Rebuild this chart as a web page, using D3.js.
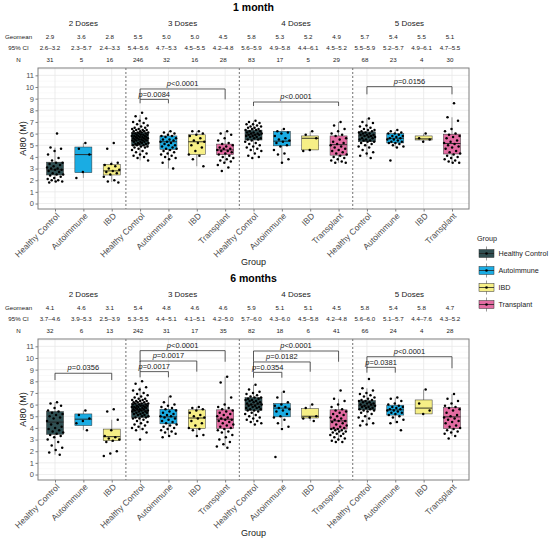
<!DOCTYPE html>
<html>
<head>
<meta charset="utf-8">
<script src="https://cdn.jsdelivr.net/npm/d3@7"></script>
<style>
body { margin: 0; background: #fff; }
svg { font-family: "Liberation Sans", Arial, sans-serif; }
</style>
</head>
<body>
<svg id="drawing_region"></svg>
<script>
// ---- data ----
const doses = ["2 Doses", "3 Doses", "4 Doses", "5 Doses"];
const groups = ["Healthy Control", "Autoimmune", "IBD", "Transplant"];
const group_colors = ["#2f4f52", "#1aace3", "#f6ef86", "#e36ca2"];
const y_ticks = [0, 1, 2, 3, 4, 5, 6, 7, 8, 9, 10, 11];
const table_rows = ["Geomean", "95% CI", "N"];

// 1 month
const m1_geomean = ["2.9","3.6","2.8","5.5","5.0","5.0","4.5","5.8","5.3","5.2","4.9","5.7","5.4","5.5","5.1"];
const m1_ci = ["2.6–3.2","2.3–5.7","2.4–3.3","5.4–5.6","4.7–5.3","4.5–5.5","4.2–4.8","5.6–5.9","4.9–5.8","4.4–6.1","4.5–5.2","5.5–5.9","5.2–5.7","4.9–6.1","4.7–5.5"];
const m1_n = ["31","5","16","246","32","16","28","83","17","5","29","68","23","4","30"];
// [lower whisker, q1, median, q3, upper whisker]
const m1_box = [
  [1.85, 2.45, 2.9, 3.55, 4.8], [2.2, 2.65, 4.2, 4.85, 5.2], [1.85, 2.45, 2.8, 3.35, 3.6],
  [3.7, 5.0, 5.6, 6.1, 7.6], [3.0, 4.65, 5.3, 5.8, 6.2], [3.2, 4.2, 5.3, 5.9, 6.2], [3.45, 4.2, 4.6, 5.1, 6.2],
  [4.4, 5.45, 5.9, 6.3, 7.1], [3.5, 4.95, 5.35, 6.2, 6.4], [4.5, 4.6, 5.6, 5.8, 6.2], [3.5, 4.15, 5.05, 5.8, 7.0],
  [4.0, 5.3, 5.8, 6.15, 7.3], [4.8, 5.2, 5.6, 6.0, 6.3], [5.3, 5.45, 5.55, 5.8, 6.0], [3.5, 4.25, 5.15, 5.95, 7.4]
];
const m1_points = [
  [6.0,4.8,4.7,4.5,4.2,3.9,3.7,3.5,3.5,3.4,3.3,3.2,3.1,3.0,3.0,2.9,2.9,2.8,2.7,2.6,2.5,2.5,2.4,2.3,2.2,2.1,2.0,2.0,1.9,1.9,1.8],
  [5.2,4.7,4.2,2.7,2.2],
  [5.2,4.7,3.5,3.4,3.3,3.2,3.0,2.9,2.8,2.7,2.6,2.5,2.3,2.0,1.9,1.8],
  [7.8,7.5,7.3,7.1,7.0,6.9,6.8,6.7,6.6,6.5,6.5,6.4,6.4,6.3,6.3,6.3,6.2,6.2,6.2,6.1,6.1,6.1,6.0,6.0,6.0,6.0,5.9,5.9,5.9,5.9,5.8,5.8,5.8,5.8,5.7,5.7,5.7,5.7,5.6,5.6,5.6,5.6,5.5,5.5,5.5,5.5,5.4,5.4,5.4,5.4,5.3,5.3,5.3,5.2,5.2,5.2,5.1,5.1,5.1,5.0,5.0,5.0,4.9,4.9,4.8,4.8,4.7,4.6,4.5,4.4,4.3,4.2,4.1,4.0,3.9,3.7],
  [6.2,6.1,6.0,5.9,5.8,5.8,5.7,5.6,5.5,5.5,5.4,5.3,5.3,5.2,5.1,5.0,5.0,4.9,4.8,4.7,4.7,4.6,4.5,4.4,4.3,4.2,4.1,4.0,3.9,3.8,3.5,3.0],
  [6.2,6.2,6.0,5.9,5.8,5.6,5.4,5.3,5.2,5.0,4.8,4.5,4.2,4.1,3.8,3.2],
  [6.2,6.0,5.9,5.6,5.4,5.2,5.1,5.0,4.9,4.8,4.7,4.7,4.6,4.5,4.5,4.4,4.3,4.2,4.1,4.0,3.9,3.8,3.7,3.6,3.5,3.3,3.1,2.8],
  [7.1,7.0,6.9,6.8,6.8,6.7,6.6,6.6,6.5,6.5,6.4,6.4,6.3,6.3,6.2,6.2,6.1,6.1,6.0,6.0,6.0,5.9,5.9,5.9,5.8,5.8,5.7,5.7,5.6,5.6,5.5,5.5,5.4,5.3,5.2,5.1,5.0,4.9,4.8,4.7,4.6,4.5,4.3,4.1,4.0,3.9],
  [6.4,6.2,6.1,6.0,5.8,5.6,5.5,5.4,5.3,5.2,5.0,4.9,4.6,4.3,4.2,3.8,3.5],
  [6.2,5.9,5.6,4.6,4.5],
  [7.0,6.7,6.4,6.2,6.0,5.9,5.8,5.6,5.5,5.3,5.2,5.1,5.0,4.9,4.8,4.7,4.6,4.5,4.4,4.3,4.2,4.1,4.0,3.9,3.8,3.7,3.6,3.5,3.5],
  [7.3,7.0,6.9,6.7,6.6,6.5,6.4,6.3,6.3,6.2,6.2,6.1,6.1,6.0,6.0,5.9,5.9,5.9,5.8,5.8,5.7,5.7,5.6,5.6,5.5,5.5,5.4,5.4,5.3,5.3,5.2,5.1,5.0,4.9,4.8,4.6,4.4,4.3,4.1,3.9],
  [6.3,6.2,6.1,6.0,6.0,5.9,5.8,5.8,5.7,5.6,5.6,5.5,5.5,5.4,5.3,5.3,5.2,5.2,5.1,5.0,4.9,4.8,3.7],
  [6.0,5.6,5.5,5.3],
  [8.6,7.4,7.1,6.4,6.2,6.0,5.9,5.8,5.7,5.6,5.4,5.3,5.2,5.1,5.0,4.9,4.8,4.7,4.5,4.4,4.3,4.2,4.1,4.0,3.9,3.8,3.7,3.6,3.5,3.5]
];
// brackets: from column, to column, bar level, tip level, label
const m1_pvals = [
  [3, 6, 9.83, 8.94, "<0.0001"],
  [3, 4, 8.94, 8.60, "=0.0084"],
  [7, 10, 8.71, 8.37, "<0.0001"],
  [11, 14, 10.03, 9.37, "=0.0156"]
];

// 6 months
const m6_geomean = ["4.1","4.6","3.1","5.4","4.8","4.6","4.6","5.9","5.1","5.1","4.5","5.8","5.4","5.8","4.7"];
const m6_ci = ["3.7–4.6","3.9–5.3","2.5–3.9","5.3–5.5","4.4–5.1","4.1–5.1","4.2–5.0","5.7–6.0","4.3–6.0","4.5–5.8","4.2–4.8","5.6–6.0","5.1–5.7","4.4–7.6","4.3–5.2"];
const m6_n = ["32","6","13","242","31","17","35","82","18","6","41","66","24","4","28"];
const m6_box = [
  [1.7, 3.45, 4.5, 5.4, 6.2], [3.8, 4.2, 4.75, 5.2, 5.5], [2.8, 2.9, 3.25, 3.9, 4.7],
  [3.8, 4.9, 5.5, 6.1, 7.5], [3.3, 4.35, 4.95, 5.6, 6.7], [3.4, 3.95, 4.85, 5.55, 5.8], [2.4, 3.95, 4.75, 5.55, 8.4],
  [4.5, 5.5, 6.0, 6.6, 7.7], [4.1, 4.95, 5.7, 6.1, 7.1], [4.6, 4.85, 5.0, 5.65, 6.0], [2.9, 3.9, 4.6, 5.55, 6.5],
  [4.3, 5.55, 5.9, 6.35, 7.4], [4.4, 5.1, 5.55, 5.95, 6.6], [5.2, 5.2, 5.7, 6.4, 7.3], [3.3, 3.95, 4.95, 5.75, 6.9]
];
const m6_points = [
  [6.2,6.1,5.9,5.7,5.5,5.4,5.3,5.2,5.1,5.0,4.9,4.8,4.6,4.4,4.3,4.1,4.0,3.9,3.8,3.7,3.6,3.5,3.4,3.3,3.2,3.0,2.8,2.5,2.3,2.1,1.9,1.7],
  [5.5,5.1,4.8,4.6,4.4,3.8],
  [5.6,5.4,4.7,3.8,3.3,3.2,3.1,3.0,2.9,2.8,2.0,1.8,1.6],
  [8.0,7.8,7.5,7.3,7.2,7.0,6.9,6.8,6.7,6.6,6.5,6.5,6.4,6.4,6.3,6.3,6.3,6.2,6.2,6.2,6.1,6.1,6.1,6.0,6.0,6.0,5.9,5.9,5.9,5.9,5.8,5.8,5.8,5.8,5.7,5.7,5.7,5.6,5.6,5.6,5.6,5.5,5.5,5.5,5.4,5.4,5.4,5.3,5.3,5.3,5.2,5.2,5.1,5.1,5.0,5.0,4.9,4.9,4.8,4.8,4.7,4.6,4.5,4.4,4.3,4.2,4.1,4.0,3.9,3.8,3.6,3.0],
  [6.7,6.2,6.0,5.9,5.8,5.7,5.6,5.5,5.4,5.3,5.2,5.1,5.0,5.0,4.9,4.8,4.7,4.6,4.5,4.4,4.3,4.2,4.1,4.0,3.9,3.8,3.7,3.6,3.5,3.3,3.2],
  [5.8,5.7,5.6,5.5,5.3,5.1,5.0,4.9,4.8,4.6,4.4,4.2,4.0,3.9,3.8,3.4,3.3],
  [8.4,7.9,6.6,6.0,5.8,5.7,5.6,5.5,5.4,5.3,5.2,5.1,5.0,4.9,4.8,4.7,4.7,4.6,4.5,4.4,4.3,4.2,4.1,4.0,3.9,3.8,3.7,3.6,3.4,3.2,3.0,2.8,2.6,2.4,2.3],
  [7.7,7.3,7.1,7.0,6.9,6.8,6.7,6.6,6.6,6.5,6.5,6.4,6.4,6.3,6.3,6.2,6.2,6.1,6.1,6.0,6.0,5.9,5.9,5.8,5.8,5.7,5.7,5.6,5.6,5.5,5.5,5.4,5.3,5.2,5.1,5.0,4.9,4.8,4.7,4.6,4.5,4.4,4.3],
  [7.1,6.6,6.2,6.0,5.9,5.8,5.7,5.6,5.5,5.4,5.2,5.0,4.9,4.7,4.4,4.1,3.9,1.5],
  [6.0,5.7,5.0,4.9,4.8,4.6],
  [7.2,6.5,6.3,6.0,5.8,5.6,5.5,5.4,5.3,5.2,5.1,5.0,4.9,4.8,4.7,4.6,4.6,4.5,4.4,4.3,4.2,4.1,4.0,4.0,3.9,3.9,3.8,3.8,3.7,3.7,3.6,3.5,3.5,3.4,3.3,3.2,3.1,3.0,2.9,2.8,2.8],
  [8.2,7.4,7.2,7.0,6.9,6.8,6.7,6.6,6.5,6.4,6.4,6.3,6.3,6.2,6.2,6.1,6.1,6.0,6.0,5.9,5.9,5.8,5.8,5.7,5.7,5.6,5.6,5.5,5.5,5.4,5.3,5.2,5.0,4.9,4.8,4.6,4.4,4.3,4.2],
  [6.6,6.5,6.3,6.1,6.0,5.9,5.8,5.8,5.7,5.6,5.6,5.5,5.5,5.4,5.3,5.3,5.2,5.1,5.0,4.9,4.7,4.5,4.4,3.8],
  [7.3,6.1,5.5,5.2],
  [6.9,6.5,6.3,6.1,5.9,5.8,5.7,5.6,5.5,5.3,5.1,5.0,4.9,4.8,4.7,4.6,4.5,4.4,4.2,4.1,4.0,3.9,3.8,3.7,3.6,3.5,3.3,3.1]
];
const m6_pvals = [
  [0, 2, 8.69, 8.11, "=0.0356"],
  [3, 6, 10.63, 9.68, "<0.0001"],
  [3, 5, 9.74, 8.83, "=0.0017"],
  [3, 4, 8.83, 8.34, "=0.0017"],
  [7, 10, 10.60, 9.68, "<0.0001"],
  [7, 9, 9.66, 8.82, "=0.0182"],
  [7, 8, 8.77, 8.31, "=0.0354"],
  [11, 14, 10.11, 9.12, "<0.0001"],
  [11, 12, 9.20, 8.74, "=0.0381"]
];

// one column per dose/group combination (no transplant at 2 doses)
const columns = doses.flatMap((d, i) =>
  groups.filter((g, j) => i > 0 || j < 3).map(g => ({ dose: d, group: g, key: d + "|" + g })));

const svg = d3.select('#drawing_region')
  .attr('width', 550)
  .attr('height', 541);

class DosePanel {

  constructor(config, data) {
    this.config = config;
    this.data = data;
    this.init();
  }

  init() {
    let self = this;
    const c = self.config;

    self.g = svg.append('g')
      .attr('transform', `translate(0, ${c.offset})`);

    self.chart = self.g.append('g')
      .attr('transform', `translate(${c.margin.left}, ${c.margin.top})`);

    self.inner_width = c.width - c.margin.left - c.margin.right;
    self.inner_height = c.height - c.margin.top - c.margin.bottom;

    self.xscale = d3.scalePoint()
      .domain(columns.map(d => d.key))
      .range([0, self.inner_width])
      .padding(0.6);

    self.yscale = d3.scaleLinear()
      .domain([-0.47, 11.63])
      .range([self.inner_height, 0]);

    self.step = self.xscale.step();
  }

  render() {
    let self = this;
    const c = self.config;
    const x = self.xscale, y = self.yscale;
    const gcol = d => group_colors[groups.indexOf(d.group)];

    // title, dose headers and table above the panel
    self.g.append('text')
      .attr('x', c.margin.left + self.inner_width / 2)
      .attr('y', 10.7)
      .attr('text-anchor', 'middle')
      .attr('font-weight', 'bold')
      .attr('font-size', 10.5)
      .text(c.title);

    self.g.selectAll('.dose_head')
      .data(doses)
      .enter()
      .append('text')
      .attr('x', d => {
        const keys = columns.filter(k => k.dose == d).map(k => x(k.key));
        return c.margin.left + d3.mean([d3.min(keys), d3.max(keys)]);
      })
      .attr('y', 25.8)
      .attr('text-anchor', 'middle')
      .attr('font-size', 8)
      .attr('fill', '#1a1a1a')
      .text(d => d);

    const row_y = [39.2, 50.2, 62.2];
    const row_vals = [self.data.geomean, self.data.ci, self.data.n];
    table_rows.forEach((r, ri) => {
      self.g.append('text')
        .attr('x', 18.5)
        .attr('y', row_y[ri])
        .attr('text-anchor', 'middle')
        .attr('font-size', 6.2)
        .attr('fill', '#1a1a1a')
        .text(r);
      self.g.selectAll('.row' + ri)
        .data(columns)
        .enter()
        .append('text')
        .attr('x', (d, i) => c.margin.left + x(d.key) - (i == 0 ? 5 : 2))
        .attr('y', row_y[ri])
        .attr('text-anchor', 'middle')
        .attr('font-size', 6.2)
        .attr('fill', '#1a1a1a')
        .text((d, i) => row_vals[ri][i]);
    });

    // grid
    const minor = d3.range(-0.5, 11.6, 1).filter(v => v > -0.47);
    self.chart.selectAll('.minor')
      .data(minor)
      .enter()
      .append('line')
      .attr('x1', 0).attr('x2', self.inner_width)
      .attr('y1', d => y(d)).attr('y2', d => y(d))
      .attr('stroke', '#f2f2f2').attr('stroke-width', 0.5);

    self.chart.selectAll('.hmajor')
      .data(y_ticks)
      .enter()
      .append('line')
      .attr('x1', 0).attr('x2', self.inner_width)
      .attr('y1', d => y(d)).attr('y2', d => y(d))
      .attr('stroke', '#e8e8e8').attr('stroke-width', 0.8);

    self.chart.selectAll('.vmajor')
      .data(columns)
      .enter()
      .append('line')
      .attr('x1', d => x(d.key)).attr('x2', d => x(d.key))
      .attr('y1', 0).attr('y2', self.inner_height)
      .attr('stroke', '#e8e8e8').attr('stroke-width', 0.8);

    // dashed separators between dose blocks
    const seps = [2, 6, 10];
    self.chart.selectAll('.sep')
      .data(seps)
      .enter()
      .append('line')
      .attr('x1', d => x(columns[d].key) + self.step / 2)
      .attr('x2', d => x(columns[d].key) + self.step / 2)
      .attr('y1', 0).attr('y2', self.inner_height)
      .attr('stroke', '#333').attr('stroke-width', 0.7)
      .attr('stroke-dasharray', '2,2');

    // boxplots
    const bw = self.step * 0.6;
    const boxes = self.chart.selectAll('.box')
      .data(columns)
      .enter()
      .append('g');

    boxes.append('line')
      .attr('x1', d => x(d.key)).attr('x2', d => x(d.key))
      .attr('y1', (d, i) => y(self.data.box[i][0]))
      .attr('y2', (d, i) => y(self.data.box[i][4]))
      .attr('stroke', '#333').attr('stroke-width', 0.5);

    boxes.append('rect')
      .attr('x', d => x(d.key) - bw / 2)
      .attr('width', bw)
      .attr('y', (d, i) => y(self.data.box[i][3]))
      .attr('height', (d, i) => y(self.data.box[i][1]) - y(self.data.box[i][3]))
      .attr('fill', gcol)
      .attr('stroke', '#333').attr('stroke-width', 0.5);

    boxes.append('line')
      .attr('x1', d => x(d.key) - bw / 2).attr('x2', d => x(d.key) + bw / 2)
      .attr('y1', (d, i) => y(self.data.box[i][2]))
      .attr('y2', (d, i) => y(self.data.box[i][2]))
      .attr('stroke', '#222').attr('stroke-width', 0.9);

    // jittered points (deterministic spread)
    const jw = self.step * 0.3;
    const pts = [];
    columns.forEach((col, i) => {
      self.data.points[i].forEach((v, j) => {
        pts.push({ key: col.key, v: v, dx: (((j + 1) * 0.618034) % 1 - 0.5) * 2 * jw });
      });
    });
    self.chart.selectAll('.pt')
      .data(pts)
      .enter()
      .append('circle')
      .attr('cx', d => x(d.key) + d.dx)
      .attr('cy', d => y(d.v))
      .attr('r', 1.25)
      .attr('fill', '#000');

    // significance brackets
    const br = self.chart.selectAll('.br')
      .data(self.data.pvals)
      .enter()
      .append('g');

    br.append('path')
      .attr('d', d => {
        const x1 = x(columns[d[0]].key), x2 = x(columns[d[1]].key);
        return `M${x1},${y(d[3])}V${y(d[2])}H${x2}V${y(d[3])}`;
      })
      .attr('fill', 'none')
      .attr('stroke', '#333').attr('stroke-width', 0.8);

    const lab = br.append('text')
      .attr('x', d => (x(columns[d[0]].key) + x(columns[d[1]].key)) / 2)
      .attr('y', d => y(d[2]) - 2.8)
      .attr('text-anchor', 'middle')
      .attr('font-size', 7.5)
      .attr('fill', '#1a1a1a');
    lab.append('tspan').attr('font-style', 'italic').text('p');
    lab.append('tspan').text(d => d[4]);

    // panel border
    self.chart.append('rect')
      .attr('width', self.inner_width)
      .attr('height', self.inner_height)
      .attr('fill', 'none')
      .attr('stroke', '#7f7f7f').attr('stroke-width', 1);

    // axes
    const yaxis = d3.axisLeft(y).tickValues(y_ticks).tickSize(2.5).tickPadding(1.5);
    const yg = self.chart.append('g').call(yaxis);
    yg.select('.domain').remove();
    yg.selectAll('line').attr('stroke', '#7f7f7f');
    yg.selectAll('text')
      .attr('font-size', 7.5)
      .attr('font-family', '"Liberation Sans", Arial, sans-serif')
      .attr('fill', '#4d4d4d');

    const xaxis = d3.axisBottom(x).tickSize(2.5).tickFormat(k => k.split('|')[1]);
    const xg = self.chart.append('g')
      .attr('transform', `translate(0, ${self.inner_height})`)
      .call(xaxis);
    xg.select('.domain').remove();
    xg.selectAll('line').attr('stroke', '#7f7f7f');
    xg.selectAll('text')
      .attr('font-size', 8.5)
      .attr('font-family', '"Liberation Sans", Arial, sans-serif')
      .attr('fill', '#4d4d4d')
      .attr('text-anchor', 'end')
      .attr('dy', null)
      .attr('y', 0)
      .attr('transform', 'translate(4.5, 7.5) rotate(-45)');

    // axis titles
    self.chart.append('text')
      .attr('x', self.inner_width / 2)
      .attr('y', self.inner_height + 56)
      .attr('text-anchor', 'middle')
      .attr('font-size', 9)
      .attr('fill', '#1a1a1a')
      .text('Group');

    self.g.append('text')
      .attr('transform', `translate(25.5, ${c.margin.top + self.inner_height / 2}) rotate(-90)`)
      .attr('text-anchor', 'middle')
      .attr('font-size', 9)
      .attr('fill', '#1a1a1a')
      .text('AI80 (M)');
  }
}

const base = { width: 550, height: 271, margin: { top: 68, right: 81, bottom: 62, left: 38 } };

const top_panel = new DosePanel(Object.assign({ title: '1 month', offset: 0 }, base),
  { geomean: m1_geomean, ci: m1_ci, n: m1_n, box: m1_box, points: m1_points, pvals: m1_pvals });
top_panel.render();

const bottom_panel = new DosePanel(Object.assign({ title: '6 months', offset: 271 }, base),
  { geomean: m6_geomean, ci: m6_ci, n: m6_n, box: m6_box, points: m6_points, pvals: m6_pvals });
bottom_panel.render();

// legend
const legend = svg.append('g').attr('transform', 'translate(477, 0)');
legend.append('text')
  .attr('x', 0).attr('y', 240.5)
  .attr('font-size', 7.2)
  .attr('fill', '#1a1a1a')
  .text('Group');

const key = legend.selectAll('.key')
  .data(groups)
  .enter()
  .append('g')
  .attr('transform', (d, i) => `translate(1.5, ${245 + i * 17})`);

key.append('line')
  .attr('x1', 8).attr('x2', 8).attr('y1', 1.5).attr('y2', 15.5)
  .attr('stroke', '#333').attr('stroke-width', 0.5);
key.append('rect')
  .attr('x', 0.5).attr('y', 4.5).attr('width', 15).attr('height', 8)
  .attr('fill', (d, i) => group_colors[i])
  .attr('stroke', '#333').attr('stroke-width', 0.5);
key.append('line')
  .attr('x1', 0.5).attr('x2', 15.5).attr('y1', 8.5).attr('y2', 8.5)
  .attr('stroke', '#222').attr('stroke-width', 0.8);
key.append('circle')
  .attr('cx', 8).attr('cy', 8.5).attr('r', 1.3).attr('fill', '#000');
key.append('text')
  .attr('x', 20).attr('y', 11)
  .attr('font-size', 7.2)
  .attr('fill', '#1a1a1a')
  .text(d => d);
</script>
</body>
</html>
